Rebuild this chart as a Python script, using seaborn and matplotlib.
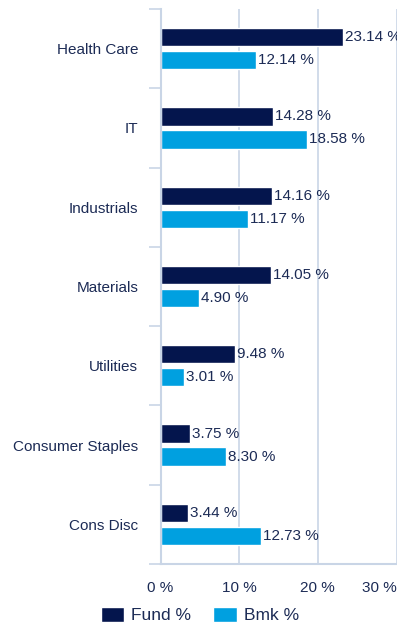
import matplotlib
matplotlib.use("Agg")
import matplotlib.pyplot as plt
import seaborn as sns
import pandas as pd
import numpy as np
from matplotlib.patches import Patch

categories = ["Health Care", "IT", "Industrials", "Materials", "Utilities",
              "Consumer Staples", "Cons Disc"]
fund = [23.14, 14.28, 14.16, 14.05, 9.48, 3.75, 3.44]
bmk = [12.14, 18.58, 11.17, 4.90, 3.01, 8.30, 12.73]
series = ["Fund %", "Bmk %"]
xticks = [0, 10, 20, 30]
xticklabels = ["0 %", "10 %", "20 %", "30 %"]

FUND_C = "#04154d"
BMK_C = "#00a0e0"
TEXT_C = "#1c2b55"
LINE_C = "#c9d5e6"

sns.set_theme(style="white")
plt.rcParams["font.family"] = ["Liberation Sans", "DejaVu Sans"]

df = pd.DataFrame({
    "Category": categories * 2,
    "Value": fund + bmk,
    "Series": [series[0]] * len(categories) + [series[1]] * len(categories),
})

W, H = 397, 628
fig = plt.figure(figsize=(W / 100, H / 100), dpi=100)
ax = fig.add_axes([160.5 / W, 1 - 564 / H, (396.5 - 160.5) / W, (564 - 9) / H])

sns.barplot(data=df, y="Category", x="Value", hue="Series", orient="h",
            palette=[FUND_C, BMK_C], width=0.58, gap=0.2, ax=ax,
            legend=False, saturation=1, order=categories, hue_order=series)

for cont in ax.containers:
    ax.bar_label(cont, labels=[f"{v:.2f} %" for v in cont.datavalues],
                 padding=1.5, fontsize=11, color=TEXT_C, clip_on=False)

ax.set_xlim(0, 30)
ax.set_ylim(len(categories) - 0.5, -0.5)
ax.set_xlabel("")
ax.set_ylabel("")
ax.set_xticks(xticks)
ax.set_xticklabels(xticklabels, fontsize=11, color=TEXT_C)
tl = ax.get_xticklabels()
tl[-1].set_horizontalalignment("right")
tl[-1].set_x(30)
ax.tick_params(axis="x", length=0, pad=12.5)
ax.tick_params(axis="y", which="major", left=False, length=0, pad=16, labelsize=11, labelcolor=TEXT_C)
ax.set_yticks(np.arange(-0.5, len(categories), 1.0), minor=True)
ax.tick_params(axis="y", which="minor", left=True, length=9, width=1.2, color=LINE_C, direction="out")

for x in xticks[1:]:
    ax.axvline(x, color=LINE_C, lw=1.2, zorder=0)

for s in ["top", "right"]:
    ax.spines[s].set_visible(False)
for s in ["left", "bottom"]:
    ax.spines[s].set_color(LINE_C)
    ax.spines[s].set_linewidth(1.5)

handles = [Patch(facecolor=FUND_C, label=series[0]), Patch(facecolor=BMK_C, label=series[1])]
fig.legend(handles=handles, loc="center", bbox_to_anchor=(199.8 / W, 1 - 615 / H),
           ncol=2, frameon=False, fontsize=12.5, handlelength=1.36, handleheight=1.0,
           handletextpad=0.4, columnspacing=1.27, labelcolor=TEXT_C, borderaxespad=0,
           borderpad=0)

fig.savefig("out.png", dpi=100)
